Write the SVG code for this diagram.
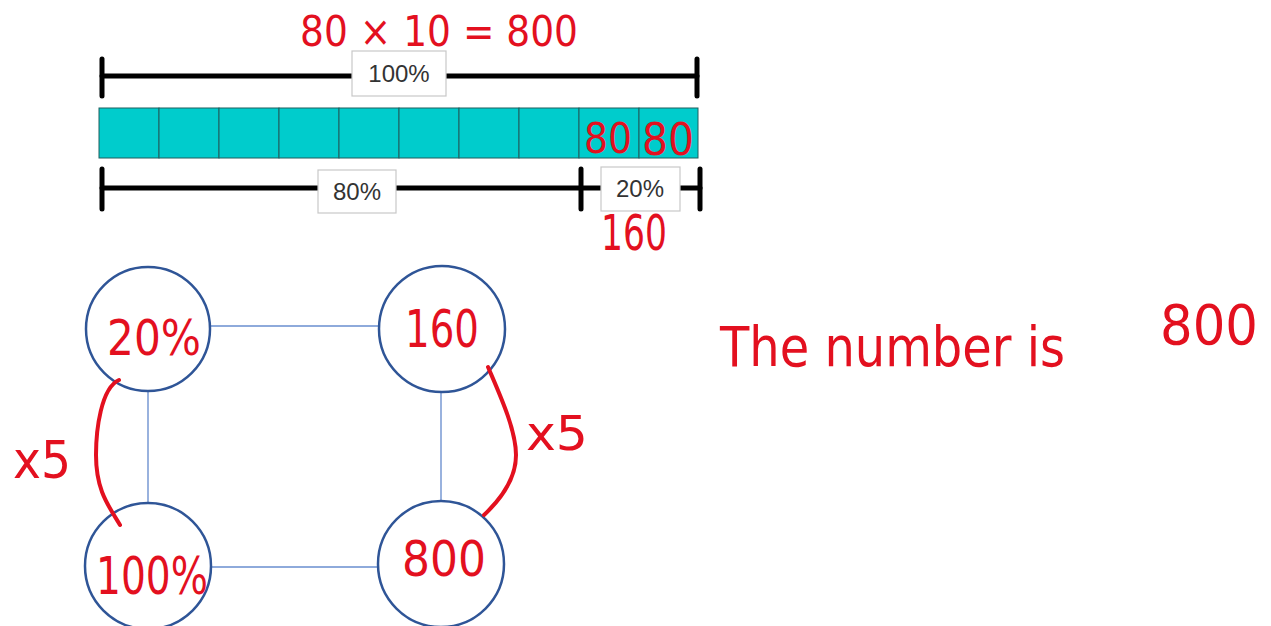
<svg xmlns="http://www.w3.org/2000/svg" width="1271" height="626" viewBox="0 0 1271 626">
<style>
.br{stroke:#000;stroke-width:5;stroke-linecap:round;fill:none}
.box{fill:#fff;stroke:#c8c8c8;stroke-width:1.2}
.lbl{font-family:"Liberation Sans",Arial,sans-serif;font-size:24px;fill:#333;text-anchor:middle}
.cell{fill:#00cccc;stroke:#1f5f5f;stroke-width:1}
.node{fill:#fff;stroke:#2f5597;stroke-width:2.5}
.edge{stroke:#8eaadb;stroke-width:1.8;fill:none}
.hw{font-family:"DejaVu Sans","Liberation Sans",sans-serif;fill:#e3101f}
.ink{stroke:#e3101f;stroke-width:4;fill:none;stroke-linecap:round}
</style>
<rect width="1271" height="626" fill="#fff"/>
<g id="bar-model">
  <line class="br" x1="102" y1="76" x2="697" y2="76"/>
  <line class="br" x1="102" y1="59" x2="102" y2="96"/>
  <line class="br" x1="697" y1="59" x2="697" y2="96"/>
  <rect class="box" x="352" y="51" width="94" height="45"/>
  <text class="lbl" x="399" y="82">100%</text>
  <g>
    <rect class="cell" x="99" y="108" width="60" height="50"/>
    <rect class="cell" x="159" y="108" width="60" height="50"/>
    <rect class="cell" x="219" y="108" width="60" height="50"/>
    <rect class="cell" x="279" y="108" width="60" height="50"/>
    <rect class="cell" x="339" y="108" width="60" height="50"/>
    <rect class="cell" x="399" y="108" width="60" height="50"/>
    <rect class="cell" x="459" y="108" width="60" height="50"/>
    <rect class="cell" x="519" y="108" width="60" height="50"/>
    <rect class="cell" x="579" y="108" width="60" height="50"/>
    <rect class="cell" x="639" y="108" width="59" height="50"/>
  </g>
  <line class="br" x1="102" y1="188" x2="700" y2="188"/>
  <line class="br" x1="102" y1="169" x2="102" y2="209"/>
  <line class="br" x1="581" y1="169" x2="581" y2="209"/>
  <line class="br" x1="700" y1="169" x2="700" y2="209"/>
  <rect class="box" x="318" y="170" width="78" height="43"/>
  <text class="lbl" x="357" y="200">80%</text>
  <rect class="box" x="601" y="167" width="79" height="44"/>
  <text class="lbl" x="640" y="197">20%</text>
</g>
<g id="connectors">
  <line class="edge" x1="211" y1="326" x2="379" y2="326"/>
  <line class="edge" x1="148" y1="391" x2="148" y2="504"/>
  <line class="edge" x1="441" y1="392" x2="441" y2="502"/>
  <line class="edge" x1="211" y1="567" x2="377" y2="567"/>
</g>
<g id="node-20pct"><circle class="node" cx="148" cy="329" r="62"/></g>
<g id="node-160"><circle class="node" cx="442" cy="329" r="63"/></g>
<g id="node-100pct"><circle class="node" cx="148" cy="566" r="63"/></g>
<g id="node-800"><circle class="node" cx="441" cy="564" r="63"/></g>
<g id="annotations">
  <text class="hw" x="300" y="46" font-size="42" textLength="278" lengthAdjust="spacingAndGlyphs">80 × 10 = 800</text>
  <text class="hw" x="584" y="153" font-size="42" textLength="48" lengthAdjust="spacingAndGlyphs">80</text>
  <text class="hw" x="642" y="155" font-size="44" textLength="52" lengthAdjust="spacingAndGlyphs">80</text>
  <text class="hw" x="601" y="250" font-size="50" textLength="66" lengthAdjust="spacingAndGlyphs">160</text>
  <text class="hw" x="107" y="355" font-size="50" textLength="94" lengthAdjust="spacingAndGlyphs">20%</text>
  <text class="hw" x="405" y="347" font-size="52" textLength="74" lengthAdjust="spacingAndGlyphs">160</text>
  <text class="hw" x="96" y="594" font-size="52" textLength="112" lengthAdjust="spacingAndGlyphs">100%</text>
  <text class="hw" x="402" y="576" font-size="50" textLength="84" lengthAdjust="spacingAndGlyphs">800</text>
  <text class="hw" x="13" y="478" font-size="52" textLength="58" lengthAdjust="spacingAndGlyphs">x5</text>
  <text class="hw" x="526" y="450" font-size="48" textLength="62" lengthAdjust="spacingAndGlyphs">x5</text>
  <text class="hw" x="720" y="366" font-size="56" textLength="345" lengthAdjust="spacingAndGlyphs">The number is</text>
  <text class="hw" x="1160" y="344" font-size="56" textLength="98" lengthAdjust="spacingAndGlyphs">800</text>
  <path class="ink" d="M119,380 C101,388 96,430 96,455 C96,490 108,505 120,525"/>
  <path class="ink" d="M488,367 C500,395 516,430 516,455 C516,480 500,500 484,515"/>
</g>
</svg>
